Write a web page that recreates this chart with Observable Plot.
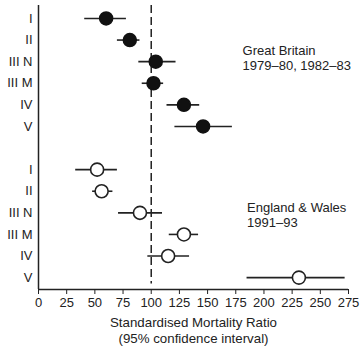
<!DOCTYPE html>
<html>
<head>
<meta charset="utf-8">
<script src="https://cdn.jsdelivr.net/npm/d3@7"></script>
<script src="https://cdn.jsdelivr.net/npm/@observablehq/plot@0.6"></script>
<style>
  body { margin: 0; background: #fff; }
  svg { font-family: "Liberation Sans", Arial, sans-serif; }
</style>
</head>
<body>
<div id="chart"></div>
<script>
const classes = ["I", "II", "III N", "III M", "IV", "V"];
const gbSmr  = [60, 81, 104, 102, 129, 146];
const gbLow  = [41, 70, 89, 92, 114, 121];
const gbHigh = [78, 90, 122, 111, 143, 172];
const ewSmr  = [52, 56, 90, 129, 115, 231];
const ewLow  = [33, 48, 71, 116, 97, 185];
const ewHigh = [70, 66, 110, 142, 134, 272];
const groupLabels = ["Great Britain\n1979–80, 1982–83", "England & Wales\n1991–93"];
const xTicks = [0, 25, 50, 75, 100, 125, 150, 175, 200, 225, 250, 275];
const refValue = 100;

const gb = classes.map((c, i) => ({cls: c, slot: i, smr: gbSmr[i], lo: gbLow[i], hi: gbHigh[i]}));
const ew = classes.map((c, i) => ({cls: c, slot: i + 7, smr: ewSmr[i], lo: ewLow[i], hi: ewHigh[i]}));
const all = gb.concat(ew);

const chart = Plot.plot({
  width: 363,
  height: 348,
  marginLeft: 38,
  marginRight: 15,
  marginTop: 5,
  marginBottom: 59,
  style: {fontSize: "13px", fontFamily: "'Liberation Sans', Arial, sans-serif", color: "#222"},
  x: {domain: [0, 275]},
  y: {domain: [12.55, -0.6]},
  marks: [
    Plot.ruleX([refValue], {y1: -0.6, y2: 12.3, stroke: "#222", strokeWidth: 1.5, strokeDasharray: "8,4"}),
    Plot.ruleX([0], {stroke: "#222", strokeWidth: 1.5}),
    Plot.ruleY([12.55], {stroke: "#222", strokeWidth: 1.5}),
    Plot.axisX({ticks: xTicks, tickSize: 5, tickPadding: 3, label: null, fontSize: 13, fill: "#222", stroke: "#222"}),
    Plot.axisY({ticks: all.map(d => d.slot), tickFormat: s => all.find(d => d.slot === s).cls, tickSize: 0, tickPadding: 6, label: null, fontSize: 13, fill: "#222"}),
    Plot.ruleY(all, {y: "slot", x1: "lo", x2: "hi", stroke: "#222", strokeWidth: 1.6}),
    Plot.dot(gb, {x: "smr", y: "slot", r: 6.5, fill: "#111", stroke: "#111"}),
    Plot.dot(ew, {x: "smr", y: "slot", r: 6.5, fill: "#fff", stroke: "#222", strokeWidth: 1.6}),
    Plot.text([groupLabels[0]], {x: 181, y: 1.8, text: d => d, textAnchor: "start", lineHeight: 1.2, fontSize: 13, fill: "#222"}),
    Plot.text([groupLabels[1]], {x: 185, y: 9.08, text: d => d, textAnchor: "start", lineHeight: 1.2, fontSize: 13, fill: "#222"}),
    Plot.text(["Standardised Mortality Ratio\n(95% confidence interval)"], {frameAnchor: "bottom", lineAnchor: "middle", dy: 40.5, lineHeight: 1.15, fontSize: 13.3, fill: "#222"})
  ]
});
document.getElementById("chart").appendChild(chart);
</script>
</body>
</html>
